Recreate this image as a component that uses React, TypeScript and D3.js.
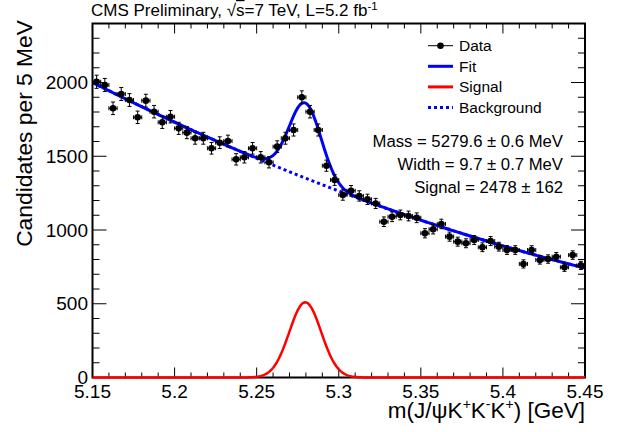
import React from "react";
import * as d3 from "d3";

// ---- Data ----
const BIN_WIDTH = 0.005; // GeV
const X_START = 5.15;
const counts: number[] = [
  2005, 1983, 1825, 1922, 1881, 1764, 1877, 1802, 1730, 1768,
  1689, 1660, 1622, 1622, 1554, 1592, 1603, 1479, 1493, 1554,
  1493, 1459, 1565, 1622, 1678, 1900, 1802, 1678, 1436, 1339,
  1237, 1266, 1231, 1208, 1180, 1056, 1090, 1102, 1095, 1083,
  978, 1005, 1041, 955, 921, 910, 932, 883, 925, 887,
  864, 864, 770, 864, 797, 803, 819, 747, 830, 760,
];
// Fit results as printed on the chart
const FIT_MASS = 5.2796; // GeV
const FIT_WIDTH = 0.0097; // GeV
const FIT_SIGNAL = 2478; // events
// Background polynomial (in t = m - 5.15)
const BG_COEFFS: number[] = [2000, -5613, 4733];

const xTicks: number[] = [5.15, 5.2, 5.25, 5.3, 5.35, 5.4, 5.45];
const xTickLabels: string[] = ["5.15", "5.2", "5.25", "5.3", "5.35", "5.4", "5.45"];
const yTicks: number[] = [0, 500, 1000, 1500, 2000];
const yTickLabels: string[] = ["0", "500", "1000", "1500", "2000"];
const legendLabels: string[] = ["Data", "Fit", "Signal", "Background"];
const fitTexts: string[] = [
  "Mass = 5279.6 \u00B1 0.6 MeV",
  "Width = 9.7 \u00B1 0.7 MeV",
  "Signal = 2478 \u00B1 162",
];

const W = 618;
const H = 432;
const L = 92.5, R = 585, T = 23.5, B = 377.5;
const FONT = "'Liberation Sans', Arial, Helvetica, sans-serif";

export default function App() {
  const x = d3.scaleLinear().domain([5.15, 5.45]).range([L, R]);
  const y = d3.scaleLinear().domain([0, 2400]).range([B, T]);

  const bg = (m: number) => {
    const t = m - X_START;
    return BG_COEFFS[0] + BG_COEFFS[1] * t + BG_COEFFS[2] * t * t;
  };
  const sig = (m: number) => {
    const amp = (FIT_SIGNAL * BIN_WIDTH) / (Math.sqrt(2 * Math.PI) * FIT_WIDTH);
    const z = (m - FIT_MASS) / FIT_WIDTH;
    return amp * Math.exp(-0.5 * z * z);
  };

  const grid = d3.range(0, 601).map((i) => 5.15 + (i * 0.3) / 600);
  const bgPath = d3.line<number>().x((m) => x(m)).y((m) => y(bg(m)))(grid) || "";
  const fitPath = d3.line<number>().x((m) => x(m)).y((m) => y(bg(m) + sig(m)))(grid) || "";
  const sigPath = d3.line<number>().x((m) => x(m)).y((m) => y(sig(m)))(grid) || "";

  const xMinor = d3.range(0, 31).map((i) => 5.15 + i * 0.01);
  const yMinor = d3.range(0, 25).map((i) => i * 100);

  const pts = counts.map((c, i) => ({
    m: X_START + (i + 0.5) * BIN_WIDTH,
    c,
    e: Math.sqrt(c),
  }));

  const legendY = [45.7, 66.3, 86.9, 107.5];

  return (
    <svg
      width={W}
      height={H}
      style={{ position: "absolute", left: 0, top: 0, background: "#fff" }}
      fontFamily={FONT}
    >
      <rect x={0} y={0} width={W} height={H} fill="#fff" />
      <defs>
        <clipPath id="plotclip">
          <rect x={L} y={T} width={R - L} height={B - T} />
        </clipPath>
      </defs>

      {/* ticks */}
      <g stroke="#000" strokeWidth={1}>
        {xMinor.map((v, i) => {
          const major = i % 5 === 0;
          const len = major ? 10 : 5;
          return (
            <g key={"xt" + i}>
              <line x1={x(v)} x2={x(v)} y1={B} y2={B - len} />
              <line x1={x(v)} x2={x(v)} y1={T} y2={T + len} />
            </g>
          );
        })}
        {yMinor.map((v, i) => {
          const major = i % 5 === 0;
          const len = major ? 14 : 7;
          return (
            <g key={"yt" + i}>
              <line x1={L} x2={L + len} y1={y(v)} y2={y(v)} />
              <line x1={R} x2={R - len} y1={y(v)} y2={y(v)} />
            </g>
          );
        })}
      </g>

      {/* curves */}
      <g clipPath="url(#plotclip)" fill="none">
        <path d={bgPath} stroke="#0000ff" strokeWidth={3} strokeDasharray="3,3" />
        <path d={fitPath} stroke="#0000ff" strokeWidth={3} />
      </g>

      {/* data points */}
      <g stroke="#000" strokeWidth={1}>
        {pts.map((p, i) => {
          const cx = x(p.m);
          const cy = y(p.c);
          const x0 = x(p.m - BIN_WIDTH / 2);
          const x1 = x(p.m + BIN_WIDTH / 2);
          const yt = y(p.c + p.e);
          const yb = y(p.c - p.e);
          return (
            <g key={"p" + i}>
              <line x1={cx} x2={cx} y1={yt} y2={yb} />
              <line x1={cx - 2} x2={cx + 2} y1={yt} y2={yt} />
              <line x1={cx - 2} x2={cx + 2} y1={yb} y2={yb} />
              <line x1={x0} x2={x1} y1={cy} y2={cy} />
              <line x1={x0} x2={x0} y1={cy - 2} y2={cy + 2} />
              <line x1={x1} x2={x1} y1={cy - 2} y2={cy + 2} />
              <circle cx={cx} cy={cy} r={3.3} fill="#000" stroke="none" />
            </g>
          );
        })}
      </g>

      {/* frame */}
      <rect x={L} y={T} width={R - L} height={B - T} fill="none" stroke="#000" strokeWidth={2} />

      {/* signal on top of frame */}
      <path d={sigPath} fill="none" stroke="#ff0000" strokeWidth={2.5} />

      {/* tick labels */}
      <g fontSize={19} fill="#000">
        {xTicks.map((v, i) => (
          <text key={"xl" + i} x={x(v)} y={397.5} textAnchor="middle">
            {xTickLabels[i]}
          </text>
        ))}
        {yTicks.map((v, i) => (
          <text key={"yl" + i} x={88} y={y(v) + 6.5} textAnchor="end">
            {yTickLabels[i]}
          </text>
        ))}
      </g>

      {/* axis titles */}
      <text x={585} y={418} fontSize={22.5} textAnchor="end">
        m(J/ψK<tspan fontSize={14} dy={-9}>+</tspan>
        <tspan dy={9}>K</tspan>
        <tspan fontSize={14} dy={-9}>-</tspan>
        <tspan dy={9}>K</tspan>
        <tspan fontSize={14} dy={-9}>+</tspan>
        <tspan dy={9}>) [GeV]</tspan>
      </text>
      <text transform="translate(32,20) rotate(-90)" fontSize={22.8} textAnchor="end">
        Candidates per 5 MeV
      </text>

      {/* title */}
      <text x={91} y={15.5} fontSize={17}>
        CMS Preliminary, √<tspan textDecoration="overline">s</tspan>=7 TeV, L=5.2 fb
        <tspan fontSize={11.5} dy={-6}>-1</tspan>
      </text>

      {/* legend */}
      <g fontSize={15.5}>
        <line x1={428} x2={453} y1={legendY[0]} y2={legendY[0]} stroke="#000" strokeWidth={1} />
        <circle cx={440.5} cy={legendY[0]} r={3.3} fill="#000" />
        <line x1={428} x2={453} y1={legendY[1]} y2={legendY[1]} stroke="#0000ff" strokeWidth={3} />
        <line x1={428} x2={453} y1={legendY[2]} y2={legendY[2]} stroke="#ff0000" strokeWidth={3} />
        <line
          x1={428}
          x2={453}
          y1={legendY[3]}
          y2={legendY[3]}
          stroke="#0000ff"
          strokeWidth={3}
          strokeDasharray="3,3"
        />
        {legendLabels.map((s, i) => (
          <text key={"lg" + i} x={459} y={legendY[i] + 5.5}>
            {s}
          </text>
        ))}
      </g>

      {/* fit results */}
      <g fontSize={16.7} textAnchor="end">
        {fitTexts.map((s, i) => (
          <text key={"ft" + i} x={563} y={146.7 + i * 23.3}>
            {s}
          </text>
        ))}
      </g>
    </svg>
  );
}
